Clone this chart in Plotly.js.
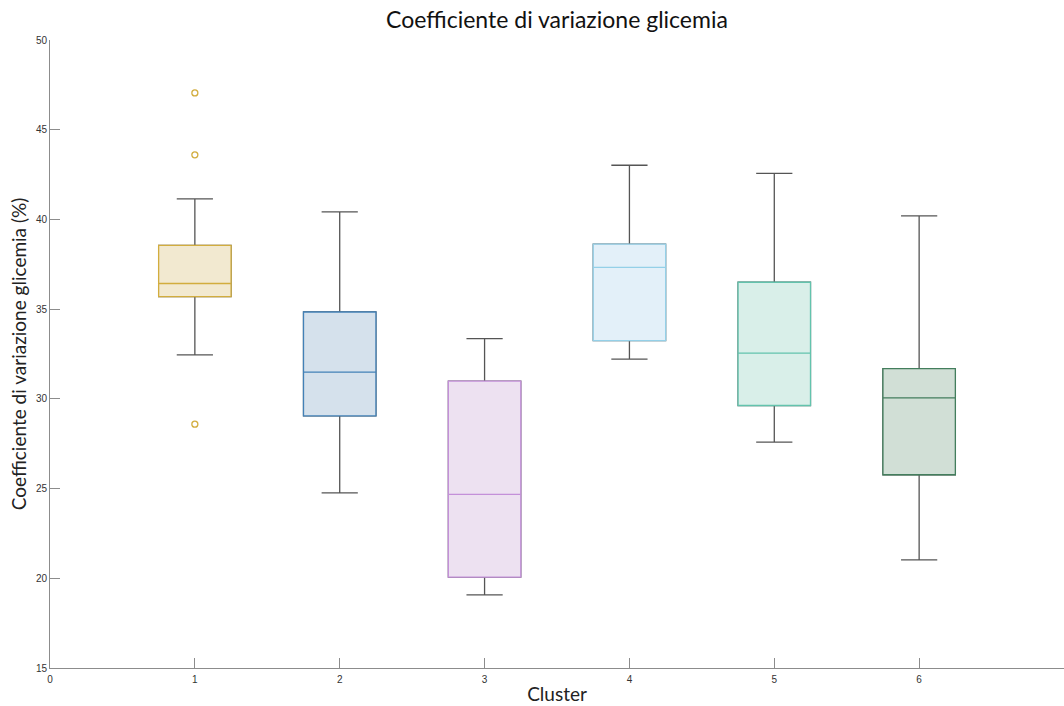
<!DOCTYPE html>
<html>
<head>
<meta charset="utf-8">
<script src="https://cdn.plot.ly/plotly-3.0.1.min.js"></script>
<style>
  html, body { margin: 0; padding: 0; background: #fff; }
  #chart { width: 1064px; height: 706px; }
</style>
</head>
<body>
<div id="chart"></div>
<script>
// Coefficiente di variazione glicemia per cluster (%)
const clusters      = [1, 2, 3, 4, 5, 6];
const lowerWhisker  = [32.45, 24.76, 19.07, 32.21, 27.59, 21.03];
const q1Values      = [35.70, 29.05, 20.07, 33.25, 29.63, 25.77];
const medianValues  = [36.43, 31.49, 24.68, 37.33, 32.55, 30.06];
const q3Values      = [38.55, 34.84, 30.99, 38.62, 36.50, 31.68];
const upperWhisker  = [41.15, 40.42, 33.36, 43.02, 42.57, 40.20];

// outlying observations (cluster 1 only)
const outlierCluster = [1, 1, 1];
const outlierValues  = [47.05, 43.60, 28.59];

const edgeColors = ['#d2ad3e', '#4381b7', '#c490d9', '#94d0e8', '#63c3ad', '#437e5d'];
const fillColors = ['#f2e9d0', '#d5e1ec', '#ede1f1', '#e3f0f9', '#d9efe9', '#d1dfd6'];
const whiskerColor = '#555555';

const traces = [];

// whiskers: grey box drawn underneath, extended to the fences
clusters.forEach((c, i) => {
  traces.push({
    type: 'box',
    x: [c],
    q1: [q1Values[i]],
    median: [medianValues[i]],
    q3: [q3Values[i]],
    lowerfence: [lowerWhisker[i]],
    upperfence: [upperWhisker[i]],
    width: 0.5,
    whiskerwidth: 0.5,
    boxpoints: false,
    line: { color: whiskerColor, width: 1.3 },
    fillcolor: 'rgba(0,0,0,0)',
    hoverinfo: 'skip',
    showlegend: false
  });
});

// coloured boxes on top (fences collapsed onto the quartiles)
clusters.forEach((c, i) => {
  traces.push({
    type: 'box',
    x: [c],
    q1: [q1Values[i]],
    median: [medianValues[i]],
    q3: [q3Values[i]],
    lowerfence: [q1Values[i]],
    upperfence: [q3Values[i]],
    width: 0.5,
    whiskerwidth: 0,
    boxpoints: false,
    line: { color: edgeColors[i], width: 1.3 },
    fillcolor: fillColors[i],
    hoverinfo: 'skip',
    showlegend: false
  });
});

traces.push({
  type: 'scatter',
  mode: 'markers',
  x: outlierCluster,
  y: outlierValues,
  marker: {
    symbol: 'circle-open',
    size: 6,
    color: edgeColors[0],
    line: { width: 1.3, color: edgeColors[0] }
  },
  hoverinfo: 'skip',
  showlegend: false
});

const axisCommon = {
  showgrid: false,
  zeroline: false,
  showline: true,
  linecolor: '#8c8c8c',
  linewidth: 1,
  ticks: 'inside',
  ticklen: 10,
  tickwidth: 1,
  tickcolor: '#8c8c8c',
  tickfont: { family: 'Liberation Sans, Arial, sans-serif', size: 10, color: '#333' },
  mirror: false
};

const layout = {
  width: 1064,
  height: 706,
  margin: { l: 50, r: 0, t: 40, b: 38 },
  paper_bgcolor: '#ffffff',
  plot_bgcolor: '#ffffff',
  boxmode: 'overlay',
  title: {
    text: 'Coefficiente di variazione glicemia',
    font: { family: 'Lato, Noto Sans, sans-serif', size: 23, color: '#111' },
    x: 0.5,
    xref: 'paper',
    xanchor: 'center',
    y: 0.972,
    yref: 'container',
    yanchor: 'middle'
  },
  xaxis: Object.assign({}, axisCommon, {
    range: [0, 7],
    tickmode: 'array',
    tickvals: [0, 1, 2, 3, 4, 5, 6, 7],
    ticktext: ['0', '1', '2', '3', '4', '5', '6', '7'],
    ticklabelstandoff: 2,
    title: {
      text: 'Cluster',
      font: { family: 'Lato, Noto Sans, sans-serif', size: 19, color: '#222' },
      standoff: 3
    }
  }),
  yaxis: Object.assign({}, axisCommon, {
    range: [15, 50],
    tickmode: 'array',
    tickvals: [15, 20, 25, 30, 35, 40, 45, 50],
    title: {
      text: 'Coefficiente di variazione glicemia (%)',
      font: { family: 'Lato, Noto Sans, sans-serif', size: 19, color: '#222' },
      standoff: 4
    }
  })
};

Plotly.newPlot('chart', traces, layout, { displayModeBar: false, staticPlot: true });
</script>
</body>
</html>
